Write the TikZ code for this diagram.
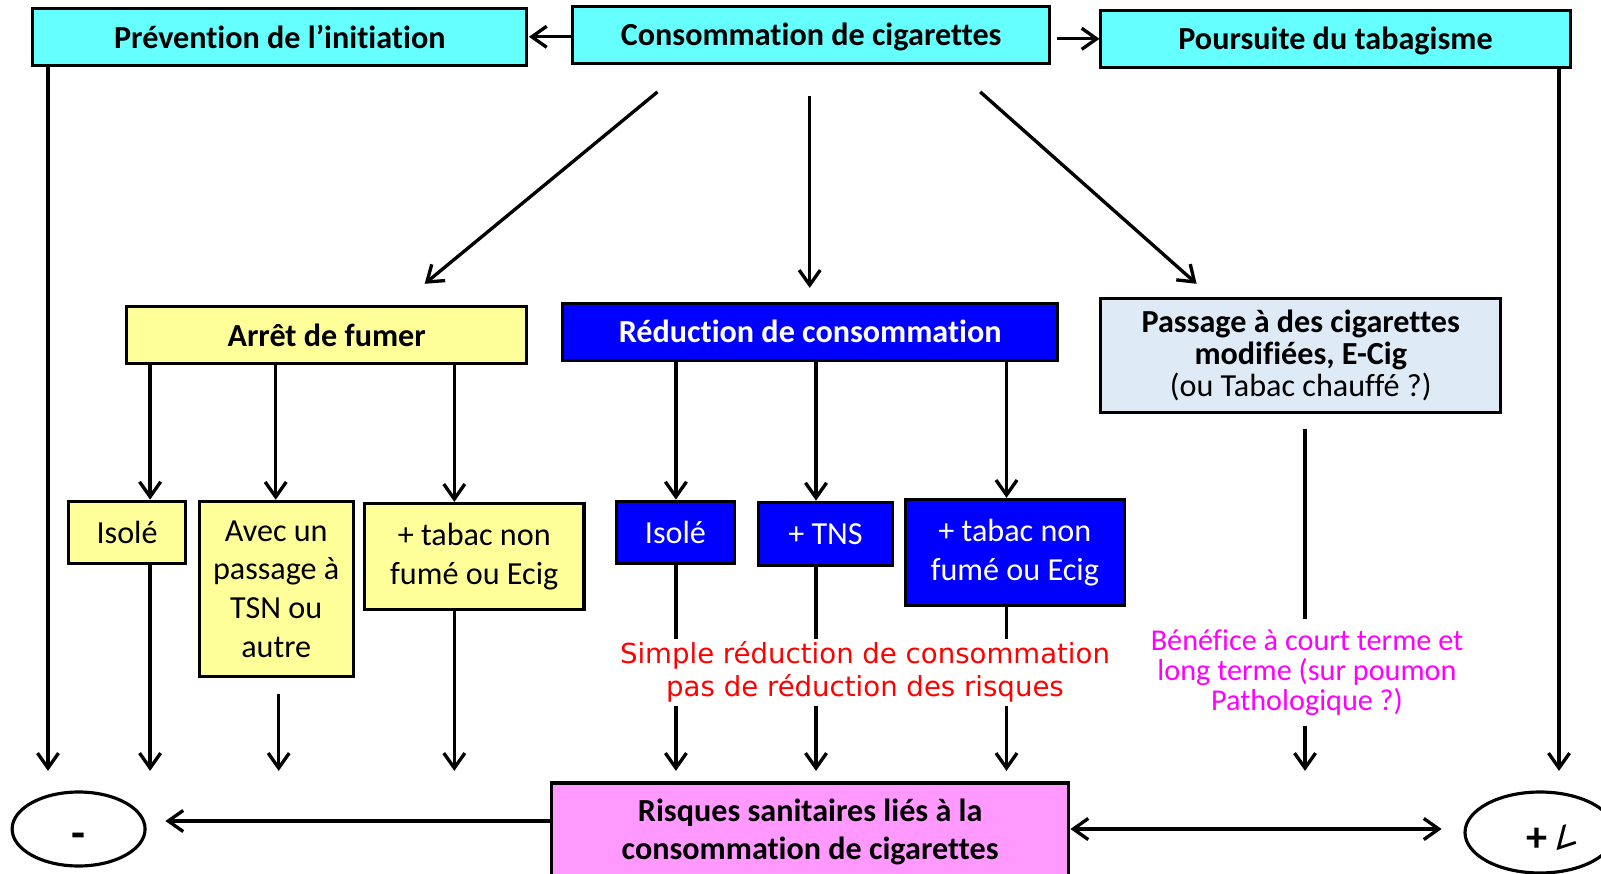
\documentclass[tikz,border=0pt]{standalone}
\usepackage{fontspec}
\setmainfont[Ligatures=NoCommon]{Carlito}
\newfontfamily\dejavu{DejaVu Sans}
\usetikzlibrary{arrows.meta,shapes.geometric}
\definecolor{cyanc}{HTML}{66FFFF}
\definecolor{yellowc}{HTML}{FFFF99}
\definecolor{lightbluec}{HTML}{DEEBF7}
\definecolor{pinkc}{HTML}{FF99FF}
\definecolor{bluec}{HTML}{0000FF}
\definecolor{redc}{HTML}{FF0000}
\definecolor{magc}{HTML}{FF00FF}
\begin{document}
\begin{tikzpicture}[x=0.02cm,y=-0.02cm,
  box/.style={draw, line width=1.8pt, inner sep=0pt, align=center, font=\fontsize{18.3}{22}\selectfont},
  bbox/.style={box, font=\fontsize{18.3}{22}\selectfont\bfseries},
  ln/.style={line width=1.9pt},
  arr/.style={line width=1.9pt, -{Straight Barb[length=8.5pt,width=12pt]}},
  arrtwo/.style={line width=1.9pt, {Straight Barb[length=8.5pt,width=12pt]}-{Straight Barb[length=8.5pt,width=12pt]}},
  oval/.style={ellipse, draw, line width=1.8pt, inner sep=0pt},
]
\useasboundingbox (0,0) rectangle (1601,874);
\clip (0,0) rectangle (1601,874);

% top row
\node[bbox, fill=cyanc, minimum width=9.88cm, minimum height=1.14cm] (prev) at (279.75,36.75) {Prévention de l’initiation};
\node[bbox, fill=cyanc, minimum width=9.54cm, minimum height=1.14cm, text height=16.6pt, text depth=4pt] (cons) at (811.2,34.7) {Consommation de cigarettes};
\node[bbox, fill=cyanc, minimum width=9.39cm, minimum height=1.14cm, text height=16.6pt, text depth=4pt] (pour) at (1335.5,38.8) {Poursuite du tabagisme};

% second row
\node[bbox, fill=yellowc, minimum width=8.0cm, minimum height=1.14cm] (arret) at (326.7,334.9) {Arrêt de fumer};
\node[bbox, fill=bluec, text=white, minimum width=9.9cm, minimum height=1.14cm] (reduc) at (810.2,331.8) {Réduction de consommation};
\node[box, fill=lightbluec, minimum width=8.0cm, minimum height=2.27cm, font=\fontsize{18.3}{18}\selectfont] (pass) at (1300.75,355.5) {\textbf{Passage à des cigarettes}\\\textbf{modifiées, E-Cig}\\(ou Tabac chauffé ?)};

% third row
\node[box, fill=yellowc, minimum width=2.35cm, minimum height=1.25cm] (yiso) at (127.1,532.45) {Isolé};
\node[box, fill=yellowc, minimum width=3.08cm, minimum height=3.51cm] (avec) at (276.2,589.1) {Avec un\\passage à\\TSN ou\\autre};
\node[box, fill=yellowc, minimum width=4.39cm, minimum height=2.12cm] (ytab) at (474.25,556.45) {+ tabac non\\fumé ou Ecig};
\node[box, fill=bluec, text=white, minimum width=2.35cm, minimum height=1.25cm] (biso) at (675.4,532.45) {Isolé};
\node[box, fill=bluec, text=white, minimum width=2.68cm, minimum height=1.27cm] (tns) at (825.5,533.95) {+ TNS};
\node[box, fill=bluec, text=white, minimum width=4.37cm, minimum height=2.12cm] (btab) at (1014.85,552.4) {+ tabac non\\fumé ou Ecig};

% bottom
\node[bbox, fill=pinkc, minimum width=10.35cm, minimum height=1.96cm, font=\fontsize{18.3}{21.8}\selectfont\bfseries] (risq) at (810.15,832) {Risques sanitaires liés à la\\consommation de cigarettes};
\node[oval, minimum width=2.66cm, minimum height=1.48cm, font=\fontsize{26}{26}\selectfont\bfseries] (minus) at (78.6,829) {\smash{\raisebox{-11pt}{-}}};
\node[oval, minimum width=3.0cm, minimum height=1.62cm] (plus) at (1540,832.5) {};
\node[inner sep=0pt, font=\fontsize{24}{24}\selectfont\bfseries] (plustxt) at (1553,837) {+\rotatebox{18}{\dejavu\mdseries\fontsize{17}{17}\selectfont ∠}};

% annotations
\node[text=redc, inner sep=0pt, align=center, font=\dejavu\fontsize{15.7}{19}\selectfont] (redt) at (865,672) {Simple réduction de consommation\\pas de réduction des risques};
\node[text=magc, inner sep=0pt, align=center, font=\fontsize{17.2}{17}\selectfont] (magt) at (1307,673) {Bénéfice à court terme et\\long terme (sur poumon\\Pathologique ?)};

% coordinates
\coordinate (tl) at (528.9,36.8);
\coordinate (trs) at (1056.7,38.8);
\coordinate (tr) at (1099.5,38.8);
\coordinate (d1a) at (657.5,91.9); \coordinate (d1b) at (424.7,283.8);
\coordinate (d2a) at (809.7,96);   \coordinate (d2b) at (809.7,287.9);
\coordinate (d3a) at (980.2,91.9); \coordinate (d3b) at (1196.6,283.8);
\coordinate (xL) at (48,770.9);
\coordinate (x1) at (150.1,770.9);
\coordinate (x2) at (275.7,770.9);
\coordinate (x2t) at (278.7,694.3);
\coordinate (x2b) at (278.7,770.9);
\coordinate (x3) at (454.3,770.9);
\coordinate (x4) at (675.9,770.9);
\coordinate (x5) at (816,770.9);
\coordinate (x6) at (1006.5,770.9);
\coordinate (xR) at (1559,770.9);
\coordinate (gapT) at (0,639);
\coordinate (gapB) at (0,706);
\coordinate (pT) at (1305,428.8);
\coordinate (pM) at (1305,619);
\coordinate (pB) at (1305,725.5);
\coordinate (pE) at (1305,770.9);
\coordinate (ml) at (165.4,821);
\coordinate (pr) at (1441.6,829);

% connectors
\draw[arr] (cons.west |- tl) -- (tl);
\draw[arr] (trs) -- (tr);
\draw[arr] (d1a) -- (d1b);
\draw[arr] (d2a) -- (d2b);
\draw[arr] (d3a) -- (d3b);

\draw[arr] (prev.south -| xL) -- (xL);
\draw[arr] (pour.south -| xR) -- (xR);

\draw[arr] (arret.south -| x1) -- (yiso.north -| x1);
\draw[arr] (yiso.south -| x1) -- (x1);
\draw[arr] (arret.south -| x2) -- (avec.north -| x2);
\draw[arr] (x2t) -- (x2b);
\draw[arr] (arret.south -| x3) -- (ytab.north -| x3);
\draw[arr] (ytab.south -| x3) -- (x3);

\draw[arr] (reduc.south -| x4) -- (biso.north -| x4);
\draw[ln] (biso.south -| x4) -- (x4 |- gapT);
\draw[arr] (x4 |- gapB) -- (x4);
\draw[arr] (reduc.south -| x5) -- (tns.north -| x5);
\draw[ln] (tns.south -| x5) -- (x5 |- gapT);
\draw[arr] (x5 |- gapB) -- (x5);
\draw[arr] (reduc.south -| x6) -- (btab.north -| x6);
\draw[ln] (btab.south -| x6) -- (x6 |- gapT);
\draw[arr] (x6 |- gapB) -- (x6);

\draw[ln] (pT) -- (pM);
\draw[arr] (pB) -- (pE);

\draw[arr] (risq.west |- ml) -- (ml);
\draw[arrtwo] (risq.east |- pr) -- (pr);
\end{tikzpicture}
\end{document}
